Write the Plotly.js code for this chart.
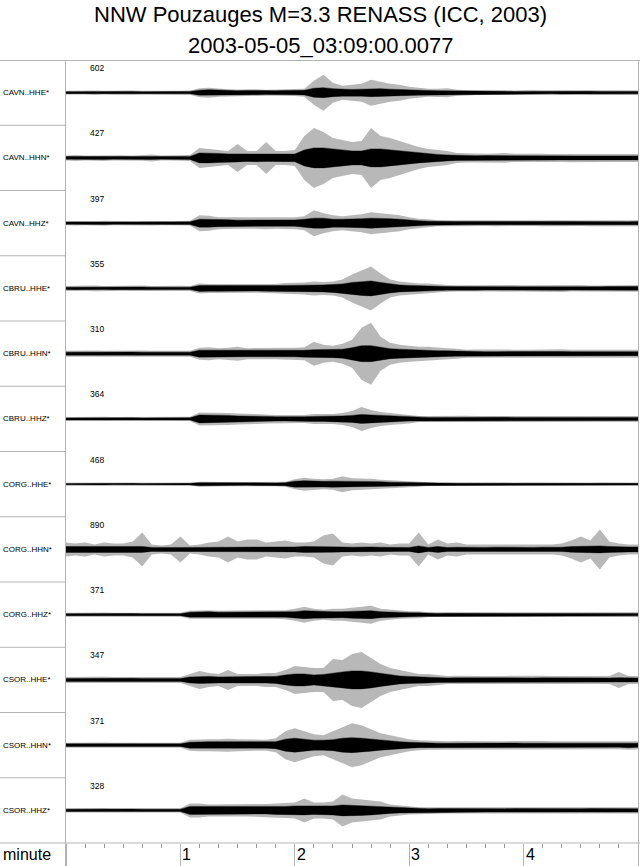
<!DOCTYPE html>
<html><head><meta charset="utf-8">
<script src="https://cdn.plot.ly/plotly-3.0.1.min.js"></script>
<style>html,body{margin:0;padding:0;background:#fff}#chart{width:640px;height:866px}</style>
</head><body><div id="chart"></div>
<script>
// ---- chart text ----
const titleLine1 = "NNW Pouzauges M=3.3 RENASS (ICC, 2003)";
const titleLine2 = "2003-05-05_03:09:00.0077";
const channels = ["CAVN..HHE*","CAVN..HHN*","CAVN..HHZ*","CBRU..HHE*","CBRU..HHN*","CBRU..HHZ*",
                  "CORG..HHE*","CORG..HHN*","CORG..HHZ*","CSOR..HHE*","CSOR..HHN*","CSOR..HHZ*"];
const maxCounts = [602,427,397,355,310,364,468,890,371,347,371,328];
const minuteTicks = [1,2,3,4];
const axisLabel = "minute";
const sampleStepMin = 5/60;   // envelope read every 5 s, 0..5 min

// ---- envelopes (half-width of dense core / of peak excursions) ----
const CAVN_HHE_core = [1,1.1,1,1.2,1,1.1,1,1.2,1,1,1.1,1,1.1,1.2, 2.5,3,2.6,2.2,2,2.2,2,1.9,2,2.2,2,2.3, 4.5,5,4,3.5,3.2,3.5,4,4,3.5,3,2.8,2.5,2.2,2,2,1.6, 1.4,1.3,1.3,1.4,1.3,1.2,1.3,1.4,1.3,1.2,1.3,1.3,1.2,1.3,1.2,1.3,1.2,1.3,1.2];
const CAVN_HHE_peak = [1.8,2,1.7,2.2,1.8,2,1.7,2.1,1.8,1.7,2,1.8,2,2.2, 4.5,5,4,3.5,3.2,3.5,3.3,3,3.2,3.5,3.3,4, 12,18,10,7,8,9,13,11,9,8,6,5,4,4,4.5,3, 2.5,2.3,2.4,2.6,2.3,2.2,2.5,2.6,2.3,2.2,2.4,2.5,2.2,2.4,2.3,2.5,2.2,2.4,2.3];

const CAVN_HHN_core = [1.4,1.5,1.3,1.4,1.5,1.3,1.4,1.3,1.4,1.6,1.3,1.4,1.3,1.5, 5,5,4.5,4,4,3.5,3.8,3.5,3.5,3.6,3.8, 8,10,10,9,8,7,7,9,9,8,7,6,5,4.5,3.5,3,2.5, 2.3,2.2,2.3,2.2,2.2,2.3,2.1,2,2.1,2,2,2.1,2,2,2.1,2,2,2.1,2];
const CAVN_HHN_peak = [2.5,3,2.5,2.6,3,2.5,2.7,2.5,2.8,3.5,2.5,2.7,2.5,3, 10,9,8,7,14,7,7,16,7,7,8, 22,30,26,20,18,16,17,30,22,20,17,14,11,9,8,7,5, 4.5,4.5,4.2,4.5,4.8,4.2,4.4,4,4.2,4,4,4.3,4,4,4.2,4,4,4.3,4];

const CAVN_HHZ_core = [1.2,1.3,1.2,1.1,1.3,1.2,1.2,1.1,1.2,1.3,1.2,1.1,1.2,1.3, 4,4,3.5,3.5,3,3,3,3.2,3,3,3.2,4, 5,5,4,4,4,4.5,5,5,4.5,4,3,2.5,2, 1.7,1.6,1.6,1.7,1.6,1.5,1.6,1.7,1.6,1.6,1.5,1.6,1.7,1.6,1.6,1.5,1.6,1.7,1.6,1.6,1.5,1.6];
const CAVN_HHZ_peak = [2.2,2.4,2.2,2,2.5,2.2,2.3,2,2.2,2.4,2.2,2,2.2,2.4, 8,7.5,6,6,5.5,5.5,5.5,6,5.5,5.5,6,7, 13,10,8,7,8,9,11,10,9,8,6,4.5,4, 3,3,3.2,3,3,2.8,3,3.2,3,3,2.8,3,3.2,3,3,2.8,3,3.2,3,3,2.8,3.2];

const CBRU_HHE_core = [1.2,1.3,1.2,1.4,1.2,1.3,1.2,1.3,1.4,1.2,1.3,1.2,1.3,1.2, 3,2.8,2.8,2.6,2.8,2.8,2.6,2.8,2.8,3,3,3.2,3.5,3.5,4,4.5, 6,7,7.5,6,4.5,3.5,3,2.5,2.5,2.2, 1.8,1.7,1.7,1.8,1.7,1.6,1.7,1.8,1.7,1.7,1.6,1.7,1.8,1.7,1.7,1.6,1.7,1.8,1.7,1.7,1.8];
const CBRU_HHE_peak = [2.5,2.8,2.4,2.8,2.5,2.7,2.4,2.6,2.8,2.5,2.7,2.4,2.6,2.5, 5,4.5,4.5,4.3,4.5,4.5,4.3,4.6,4.5,5.5,5.5,6,7,6.5,7,9, 14,18,22,15,9,7,6,5,5,4, 3.3,3.2,3.3,3.5,3.2,3,3.3,3.5,3.2,3.3,3,3.2,3.5,3.2,3.3,3,3.2,3.5,3.2,3.3,3.4];

const CBRU_HHN_core = [1.5,1.6,1.5,1.6,1.5,1.6,1.5,1.6,1.5,1.6,1.5,1.4,1.5,1.5, 3.5,3.5,3,3,3,3,3,3,3,3,3.2,3.5,4,4,4,4.5,6, 8,8,6.5,5,4.5,4,3.5,3.2,3,2.8,2.5, 2,2.1,2,2,2.1,2,2,2.1,2,2,2.1,2,2,2.1,2,2,2.1,2,2];
const CBRU_HHN_peak = [3,3.2,2.8,3.2,3,3.2,2.8,3,3.2,3,2.8,2.8,3,3, 6,6.5,5.5,6,7,5.5,5.5,5.5,5.5,5.5,6,6.5,12,9,8,10,14, 26,31,17,11,9,8,7,7,6,5.5,5, 4,4.2,4,4,4.3,4,4,4.2,4,4,4.3,4,4,4.2,4,4,4.3,4,4];

const CBRU_HHZ_core = [1,1.1,1,1,1.1,1,1,1.1,1,1,1.1,1,1,1.1, 4,4,3.5,3.5,3,3,2.8,2.5,2.2,2,2,2.2,2.5,2.5,2.8,3,3.5,4.5,4,3.5,3,2.5,2.2, 1.6,1.5,1.5,1.6,1.5,1.5,1.6,1.5,1.5,1.6,1.5,1.5,1.6,1.5,1.5,1.6,1.5,1.5,1.6,1.5,1.5,1.6,1.5,1.5];
const CBRU_HHZ_peak = [2,2.2,2,2,2.2,2,2,2.2,2,2,2.2,2,2,2.2, 6.5,6.5,6,6,5.5,5,5,4.5,4,4,4,4,5,5,5,6,8,12,9,7,6,5,4.5, 3,3,3.2,3,3,3.2,3,3,3.2,3,3,3.2,3,3,3.2,3,3,3.2,3,3,3.2,3,3,3];

const CORG_HHE_core = [0.7,0.8,0.7,0.7,0.8,0.7,0.7,0.8,0.7,0.7,0.8,0.7,0.7,0.8, 1.5,1.4,1.3,1.3,1.3,1.2,1.3,1.3,1.2,1.5, 3,3.5,3,2.8,3,3,3,3,2.8,2.5,2,1.8,1.5,1.2, 0.8,0.8,0.9,0.8,0.8,0.8,0.9,0.8,0.8,0.8,0.9,0.8,0.8,0.8,0.9,0.8,0.8,0.8,0.9,0.8,0.8,0.8,0.8];
const CORG_HHE_peak = [1.3,1.4,1.3,1.2,1.4,1.3,1.3,1.5,1.3,1.2,1.4,1.3,1.3,1.4, 2.5,2.3,2.2,2.2,2.2,2,2.2,2.2,2,2.5, 5,6.5,5.5,5,5.5,8,6,6,5.5,4.5,4,3.5,3,2.5, 1.5,1.5,1.6,1.5,1.5,1.5,1.6,1.5,1.5,1.5,1.6,1.5,1.5,1.5,1.6,1.5,1.5,1.5,1.6,1.5,1.5,1.5,1.5];

const CORG_HHN_core = [3,3,3.5,3,3.5,3.5,3,3,3, 2,1.8,2,2,2,2, 2.3,2.5,2.5,2.5,2.3,2.5,2.3,2.5,2.5,2.5, 3,3,3,2.8,2.5, 2.2,2.5,2.5,2.2,2,2,2, 3.5, 2, 3, 2,2.2,2,2,2,2.2,2,2,2,2,2.2,2,2.2, 2.8,3,3.5,3.5,3,2.5,2.5,2.5];
const CORG_HHN_peak = [7,6,7,5,7,6,6,8,17, 5,4,5,13,4,5, 7,8,13,8,10,10,7,8,9,7, 7,8,14,16,7, 6,7,6,7,5,6,6, 17, 5, 10, 6,7,5,5,5,5,4.5,5,5,5,5,5,6, 9,13,9,20,8,6,5,5];

const CORG_HHZ_core = [1,1.1,1,1,1.1,1,1,1.1,1,1,1.1,1,1, 2.5,3,3,2.5,2.5,2.5,2.5,2.5,2.5,2.5,2.5,3,4,3.5,3,3,3,3.5,4,4,3,2.5,2.2,2,1.8, 1.2,1.2,1.3,1.2,1.2,1.2,1.3,1.2,1.2,1.2,1.3,1.2,1.2,1.2,1.3,1.2,1.2,1.2,1.3,1.2,1.2,1.2,1.2];
const CORG_HHZ_peak = [2,2.2,2,2,2.2,2,2,2.2,2,2,2.2,2,2, 4,4.5,4.5,4,4,4,4,4,4,4,4.5,6,8,6,5,6,6,7,8,9,6,5,4,3.5,3.5, 2.3,2.3,2.5,2.3,2.3,2.3,2.5,2.3,2.3,2.3,2.5,2.3,2.3,2.3,2.5,2.3,2.3,2.3,2.5,2.3,2.3,2.3,2.3];

const CSOR_HHE_core = [1.5,1.6,1.5,1.5,1.6,1.5,1.5,1.6,1.5,1.5,1.6,1.5,1.5, 3,3.5,3.5,3,3,3,3,3,3.2,3.5,5,6,6,5,5.5,7,8,9,9,8,6.5,5,4,3.5,3,3,2.5, 2,2.1,2,2,2.1,2,2,2.1,2,2,2.1,2,2,2.1,2,2,2.1,2,2.2,2,2];
const CSOR_HHE_peak = [3,3.2,3,3,3.2,3,3,3.2,3,3,3.2,3,3, 6,9,7,6,10,6,6,6,7,7,10,14,13,12,12,21,20,26,28,22,16,12,10,8,6,6,5, 4,4.2,4,4,4.2,4,4,4.2,4,4,4.2,4,4,4.2,4,4,4.2,4,8,4,4];

const CSOR_HHN_core = [1.3,1.4,1.3,1.3,1.4,1.3,1.3,1.4,1.3,1.3,1.4,1.3,1.3, 3,3.5,3.5,3.5,3.5,3.5,3.5,3,3,3.5,6,7,6,5,5,5.5,7,7.5,7,6,5,4,3.5,3,2.5,2.3, 2,2,2.1,2,2,2.1,2,2,2.1,2,2,2.1,2,2,2.1,2,2,2.1,2,2,2.5,2];
const CSOR_HHN_peak = [2.5,2.7,2.5,2.5,2.7,2.5,2.5,2.7,2.5,2.5,2.7,2.5,2.5, 5.5,6,6,6,6.5,6,6,5.5,5.5,7,14,17,14,11,10,14,18,22,20,16,12,10,8,6,5,4.5, 4,4,4.2,4,4,4.2,4,4,4.2,4,4,4.2,4,4,4.2,4,4,4.2,4,4,4.5,4];

const CSOR_HHZ_core = [1.2,1.3,1.2,1.2,1.3,1.2,1.2,1.3,1.2,1.2,1.3,1.2,1.2, 4,4,3.5,3.5,3.5,3.5,3.5,3.5,3.5,4,4,4.5,4.5,4,4,4.5,5.5,5,5,4.5,4,3,2.5,2.2, 1.7,1.7,1.8,1.7,1.7,1.7,1.8,1.7,1.7,1.7,1.8,1.7,1.7,1.7,1.8,1.7,1.7,1.7,1.8,1.7,1.7,1.7,1.8,1.7];
const CSOR_HHZ_peak = [2.2,2.4,2.2,2.2,2.4,2.2,2.2,2.4,2.2,2.2,2.4,2.2,2.2, 7,7,6,6,6,6,6,6,6.5,7,7.5,8,12,8,8,9,16,12,11,10,9,6,5,4, 3.2,3.2,3.4,3.2,3.2,3.2,3.4,3.2,3.2,3.2,3.4,3.2,3.2,3.2,3.4,3.2,3.2,3.2,3.4,3.2,3.2,3.2,3.4,3.2];

const cores = [CAVN_HHE_core,CAVN_HHN_core,CAVN_HHZ_core,CBRU_HHE_core,CBRU_HHN_core,CBRU_HHZ_core,
               CORG_HHE_core,CORG_HHN_core,CORG_HHZ_core,CSOR_HHE_core,CSOR_HHN_core,CSOR_HHZ_core];
const peaks = [CAVN_HHE_peak,CAVN_HHN_peak,CAVN_HHZ_peak,CBRU_HHE_peak,CBRU_HHN_peak,CBRU_HHZ_peak,
               CORG_HHE_peak,CORG_HHN_peak,CORG_HHZ_peak,CSOR_HHE_peak,CSOR_HHN_peak,CSOR_HHZ_peak];

// ---- geometry ----
const W = 640, H = 866, L = 66, R = 2, T = 60, B = 23;
const plotW = W - L - R, plotH = H - T - B;
const ROW = plotH / channels.length;
const FONT = "Liberation Sans, Arial, Helvetica, sans-serif";
const LINE = "#b4b4b4";
const px2paperX = px => (px - L) / plotW;
const py2paperY = py => (H - B - py) / plotH;

const data = [];
function band(env, base, color, lw) {
  const t = env.map((_, k) => k * sampleStepMin);
  const xs = t.concat(t.slice().reverse());
  const ys = env.map(v => base + v).concat(env.slice().reverse().map(v => base - v));
  return {type: "scatter", mode: "lines", x: xs, y: ys, fill: "toself", fillcolor: color,
          line: {width: lw, color: color}, hoverinfo: "skip", showlegend: false};
}
channels.forEach((ch, i) => {
  const base = -(i + 0.5) * ROW;
  data.push(band(peaks[i], base, "rgba(0,0,0,0.28)", 0));
  data.push(band(cores[i], base, "#000", 0.4));
});

const shapes = [];
const seg = (x0, y0, x1, y1) => ({type: "line", xref: "paper", yref: "paper",
  x0: px2paperX(x0), x1: px2paperX(x1), y0: py2paperY(y0), y1: py2paperY(y1),
  line: {color: LINE, width: 1}});
shapes.push(seg(0, T + 0.5, W, T + 0.5));
shapes.push(seg(0, H - B, W, H - B));
shapes.push(seg(L - 0.5, T, L - 0.5, H));
shapes.push(seg(W - R + 0.5, T, W - R + 0.5, H));
for (let r = 1; r < channels.length; r++) shapes.push(seg(0, T + r * ROW, L, T + r * ROW));

const annotations = [];
annotations.push({text: titleLine1, xref: "paper", yref: "paper", x: px2paperX(320), y: py2paperY(14),
  xanchor: "center", yanchor: "middle", showarrow: false, font: {family: FONT, size: 22, color: "#000"}});
annotations.push({text: titleLine2, xref: "paper", yref: "paper", x: px2paperX(320), y: py2paperY(45),
  xanchor: "center", yanchor: "middle", showarrow: false, font: {family: FONT, size: 22, color: "#000"}});
channels.forEach((ch, i) => {
  annotations.push({text: ch, xref: "paper", yref: "y", x: px2paperX(1), y: -(i + 0.5) * ROW,
    xanchor: "left", yanchor: "middle", showarrow: false, font: {family: FONT, size: 8, color: "#000"}});
  annotations.push({text: String(maxCounts[i]), xref: "x", yref: "y", x: 0.19, y: -i * ROW - 8,
    xanchor: "left", yanchor: "middle", showarrow: false, font: {family: FONT, size: 8.5, color: "#000"}});
});
minuteTicks.forEach(t => {
  annotations.push({text: String(t), xref: "x", yref: "paper", x: t, y: py2paperY(855),
    xanchor: "left", yanchor: "middle", xshift: 0, showarrow: false, font: {family: FONT, size: 16, color: "#000"}});
});
annotations.push({text: axisLabel, xref: "paper", yref: "paper", x: px2paperX(1), y: py2paperY(855),
  xanchor: "left", yanchor: "middle", showarrow: false, font: {family: FONT, size: 16, color: "#000"}});

const layout = {
  width: W, height: H, margin: {l: L, r: R, t: T, b: B, pad: 0},
  paper_bgcolor: "#fff", plot_bgcolor: "#fff", showlegend: false,
  font: {family: FONT},
  xaxis: {range: [0, 5], showgrid: false, zeroline: false, showline: false,
          ticks: "outside", tickmode: "linear", tick0: 0, dtick: 1, ticklen: 23, tickcolor: LINE, tickwidth: 1,
          showticklabels: false,
          minor: {ticks: "outside", tickmode: "linear", tick0: 0, dtick: 1/6, ticklen: 4, tickcolor: "#999", tickwidth: 1, showgrid: false}},
  yaxis: {range: [-plotH, 0], showgrid: false, zeroline: false, showline: false, ticks: "", showticklabels: false, fixedrange: true},
  shapes: shapes, annotations: annotations
};
Plotly.newPlot("chart", data, layout, {staticPlot: true, displayModeBar: false});
</script></body></html>
